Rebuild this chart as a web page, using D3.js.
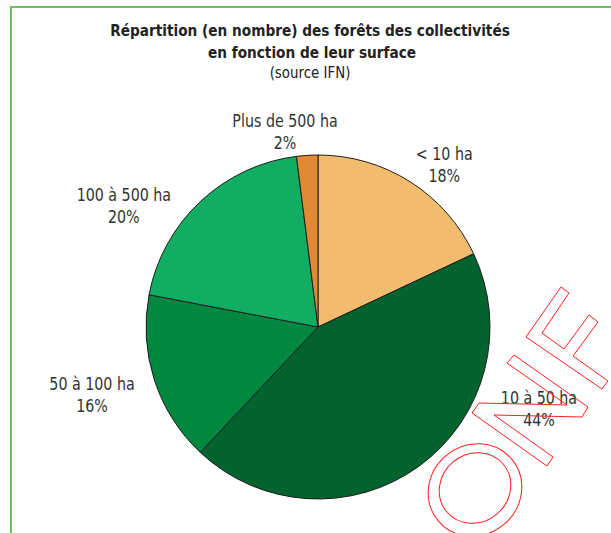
<!DOCTYPE html>
<html>
<head>
<meta charset="utf-8">
<script src="https://cdn.jsdelivr.net/npm/d3@7"></script>
<style>
html,body{margin:0;padding:0;background:#fff;}
svg{display:block;}
</style>
</head>
<body>
<svg id="chart" width="611" height="533"></svg>
<script>
// ---- data ----
const categories = ["< 10 ha", "10 à 50 ha", "50 à 100 ha", "100 à 500 ha", "Plus de 500 ha"];
const values = [18, 44, 16, 20, 2];
const percentLabels = ["18%", "44%", "16%", "20%", "2%"];
const titleLines = ["Répartition (en nombre) des forêts des collectivités", "en fonction de leur surface"];
const subtitle = "(source IFN)";

// ---- layout / style ----
const colors = ["#F2BC6E", "#03632F", "#01873F", "#10AD63", "#E08A34"];
const labelNudges = [[11, 14.5], [94.6, -96.9], [-21.5, -3.4], [-47, 31], [-19.5, 14.6]];
const W = 611, H = 533;
const cx = 318, cy = 327, R = 172;
const fontFam = "'DejaVu Sans Condensed', 'Liberation Sans Narrow', sans-serif";

const svg = d3.select("#chart");

// frame
svg.append("path")
  .attr("d", `M11,${H} L11,7 L${W},7`)
  .attr("fill", "none").attr("stroke", "#6DBE5F").attr("stroke-width", 2);

// title (horizontally condensed text)
function condensedText(parent, x, y, str, size, weight, sx) {
  parent.append("g").attr("transform", `translate(${x},${y}) scale(${sx},1)`)
    .append("text").attr("text-anchor", "middle").attr("font-family", fontFam)
    .attr("font-size", size).attr("font-weight", weight).attr("fill", "#222").text(str);
}
condensedText(svg, 310, 36, titleLines[0], 16, "bold", 0.95);
condensedText(svg, 312, 58, titleLines[1], 16, "bold", 0.95);
condensedText(svg, 310, 78, subtitle, 16, "normal", 0.93);

// pie
const pie = d3.pie().sort(null).value(d => d)(values);
const arc = d3.arc().innerRadius(0).outerRadius(R);
const labelArc = d3.arc().innerRadius(215).outerRadius(215);

const g = svg.append("g").attr("transform", `translate(${cx},${cy})`);
g.selectAll("path.slice").data(pie).join("path")
  .attr("class", "slice")
  .attr("d", arc)
  .attr("fill", (d, i) => colors[i])
  .attr("stroke", "#1e1e1e").attr("stroke-width", 1).attr("stroke-linejoin", "round");

// labels
const lg = g.selectAll("g.lab").data(pie).join("g")
  .attr("class", "lab")
  .attr("transform", (d, i) => {
    const c = labelArc.centroid(d);
    return `translate(${c[0] + labelNudges[i][0]},${c[1] + labelNudges[i][1]}) scale(0.88,1)`;
  })
  .attr("font-family", fontFam).attr("font-size", 18).attr("fill", "#333").attr("text-anchor", "middle");
lg.append("text").attr("y", 0).text((d, i) => categories[i]);
lg.append("text").attr("y", 22).text((d, i) => percentLabels[i]);

// ONF watermark (decorative outline)
const wm = svg.append("g").attr("fill", "none").attr("stroke", "#FF2020").attr("stroke-width", 1);
wm.append("path").attr("d", "M561,287 L569,293 L542,333 L564,349 L589,315 L598,322 L573,356 L608,381 L602,389 L526,337 Z");
wm.append("path").attr("d", "M514,355 L588,407 L582,417 L494,415 L553,457 L547,466 L472,413 L479,403 L567,405 L507,363 Z");
wm.append("ellipse").attr("cx", 475).attr("cy", 490).attr("rx", 48).attr("ry", 45).attr("transform", "rotate(-40,475,490)");
wm.append("ellipse").attr("cx", 475).attr("cy", 488).attr("rx", 37).attr("ry", 34).attr("transform", "rotate(-40,475,488)");
</script>
</body>
</html>
